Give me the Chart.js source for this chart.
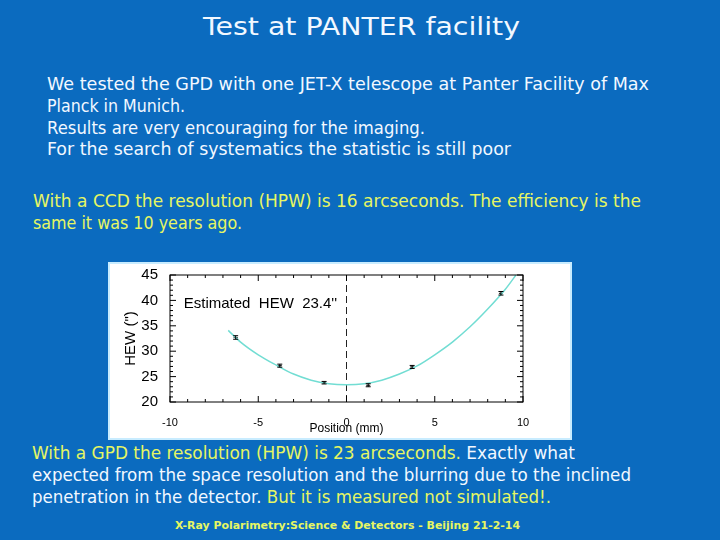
<!DOCTYPE html>
<html>
<head>
<meta charset="utf-8">
<script src="https://cdn.jsdelivr.net/npm/chart.js@4.4.0/dist/chart.umd.min.js"></script>
<style>
body{margin:0;width:720px;height:540px;background:#0b6bbf;overflow:hidden;position:relative;font-family:"DejaVu Sans",sans-serif;}
.ln{position:absolute;white-space:nowrap;line-height:1;font-size:17px;color:#f2f8ff;transform-origin:0 0;}
.y{color:#e6f663;}
#box{position:absolute;left:108px;top:262px;width:464px;height:178px;background:#fff;box-shadow:inset 0 0 0 2px #c8ecff;}
</style>
</head>
<body>
<div class="ln" data-w="317" style="left:203px;top:15px;font-size:24px;">Test at PANTER facility</div>

<div class="ln" data-w="602" style="left:47px;top:76px;">We tested the GPD with one JET-X telescope at Panter Facility of Max</div>
<div class="ln" data-w="138" style="left:47px;top:98px;">Planck in Munich.</div>
<div class="ln" data-w="378" style="left:47px;top:120px;">Results are very encouraging for the imaging.</div>
<div class="ln" data-w="464" style="left:47px;top:141px;">For the search of systematics the statistic is still poor</div>

<div class="ln y" data-w="608" style="left:33px;top:193px;">With a CCD the resolution (HPW) is 16 arcseconds. The efficiency is the</div>
<div class="ln y" data-w="209" style="left:33px;top:215px;">same it was 10 years ago.</div>

<div id="box"><canvas id="chart"></canvas></div>

<div class="ln" data-w="543" style="left:32px;top:445px;"><span class="y">With a GPD the resolution (HPW) is 23 arcseconds.</span> Exactly what</div>
<div class="ln" data-w="599" style="left:32px;top:467px;">expected from the space resolution and the blurring due to the inclined</div>
<div class="ln" data-w="519" style="left:32px;top:489px;">penetration in the detector. <span class="y">But it is measured not simulated!.</span></div>

<div class="ln y" data-w="345" style="left:175px;top:520px;font-size:11px;font-weight:bold;">X-Ray Polarimetry:Science &amp; Detectors - Beijing 21-2-14</div>

<script>
// measured HEW points (position in mm, HEW in arcsec)
var posX = [-6.28, -3.78, -1.27, 1.23, 3.72, 8.75];
var hewY = [32.7, 27.15, 23.8, 23.3, 26.9, 41.4];
var hewErr = [0.35, 0.3, 0.25, 0.3, 0.3, 0.35];

// fitted curve
var curveX = [-6.7, -6, -5, -4, -3, -2, -1, 0, 1, 2, 3, 4, 5, 6, 7, 8, 9, 9.6];
var curveY = [34.1, 31.8, 29.3, 27.3, 25.5, 24.3, 23.6, 23.4, 23.6, 24.3, 25.5, 27.1, 29.3, 31.8, 34.8, 38.3, 42.2, 45];

var xRange = [-10, 10];
var yRange = [20, 45];
var note = "Estimated  HEW  23.4''";

// stretch text lines to their width on the slide
document.querySelectorAll('.ln').forEach(function(el){
	var w = el.getBoundingClientRect().width;
	el.style.transform = 'scaleX(' + (el.dataset.w / w) + ')';
});

function xy(a, b){
	var out = [];
	for (var i = 0; i < a.length; i++) out.push({x: a[i], y: b[i]});
	return out;
}

// frame, inward ticks, error bars and label
var idlPlugin = {
	id: 'idl',
	afterDatasetsDraw: function(chart){
		var c = chart.ctx, a = chart.chartArea;
		var sx = chart.scales.x, sy = chart.scales.y;
		c.save();
		c.strokeStyle = '#000';
		c.lineWidth = 1;
		c.strokeRect(a.left, a.top, a.right - a.left, a.bottom - a.top);
		c.beginPath();
		for (var v = xRange[0]; v <= xRange[1]; v++){
			var px = sx.getPixelForValue(v);
			var l = (v % 5 == 0) ? 6 : 3;
			c.moveTo(px, a.bottom); c.lineTo(px, a.bottom - l);
			c.moveTo(px, a.top); c.lineTo(px, a.top + l);
		}
		for (var v = yRange[0]; v <= yRange[1]; v++){
			var py = sy.getPixelForValue(v);
			var l = (v % 5 == 0) ? 6 : 3;
			c.moveTo(a.left, py); c.lineTo(a.left + l, py);
			c.moveTo(a.right, py); c.lineTo(a.right - l, py);
		}
		c.stroke();
		// error bars
		c.beginPath();
		for (var i = 0; i < posX.length; i++){
			var px = sx.getPixelForValue(posX[i]);
			var y1 = sy.getPixelForValue(hewY[i] - hewErr[i]);
			var y2 = sy.getPixelForValue(hewY[i] + hewErr[i]);
			c.moveTo(px, y1); c.lineTo(px, y2);
			c.moveTo(px - 2.5, y1); c.lineTo(px + 2.5, y1);
			c.moveTo(px - 2.5, y2); c.lineTo(px + 2.5, y2);
		}
		c.stroke();
		c.fillStyle = '#000';
		c.font = '15px "Liberation Sans"';
		c.textBaseline = 'middle';
		c.fillText(note, sx.getPixelForValue(-9.22), sy.getPixelForValue(39.3));
		c.restore();
	}
};

Chart.defaults.color = '#000';
Chart.defaults.font.family = '"Liberation Sans", sans-serif';

new Chart(document.getElementById('chart'), {
	type: 'scatter',
	data: {
		datasets: [
			{
				type: 'line',
				data: xy(curveX, curveY),
				borderColor: '#72ddd3',
				borderWidth: 1.5,
				pointRadius: 0,
				tension: 0.4,
				cubicInterpolationMode: 'monotone'
			},
			{
				type: 'line',
				data: xy([0, 0], yRange),
				borderColor: '#222',
				borderWidth: 1,
				borderDash: [7, 4],
				pointRadius: 0
			},
			{
				data: xy(posX, hewY),
				pointStyle: 'line',
				pointRadius: 2,
				borderColor: '#000',
				borderWidth: 1
			}
		]
	},
	options: {
		responsive: true,
		maintainAspectRatio: false,
		animation: false,
		layout: {padding: {left: 0, right: 49, top: 13, bottom: 0}},
		plugins: {legend: {display: false}, tooltip: {enabled: false}},
		scales: {
			x: {
				type: 'linear', min: xRange[0], max: xRange[1],
				grid: {display: false},
				border: {display: false},
				ticks: {stepSize: 5, font: {size: 11}, padding: 6, maxRotation: 0},
				title: {display: true, text: 'Position (mm)', font: {size: 12}, padding: {top: 3, bottom: 4}},
				afterFit: function(s){ s.height = 38; }
			},
			y: {
				min: yRange[0], max: yRange[1],
				grid: {display: false},
				border: {display: false},
				ticks: {stepSize: 5, font: {size: 15}, padding: 4},
				title: {display: true, text: 'HEW (")', font: {size: 15}, padding: {top: 14, bottom: 4}},
				afterFit: function(s){ s.width = 62; }
			}
		}
	},
	plugins: [idlPlugin]
});
</script>
</body>
</html>
